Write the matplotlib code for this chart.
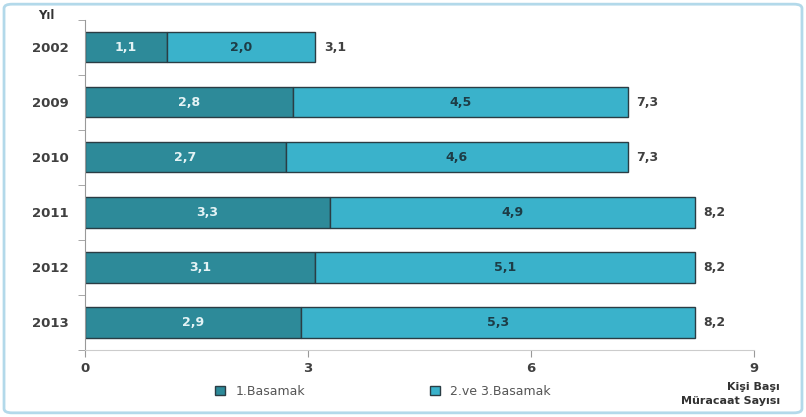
import numpy as np
import matplotlib.pyplot as plt
from matplotlib.patches import FancyBboxPatch

years = ['2002', '2009', '2010', '2011', '2012', '2013']
basamak1 = [1.1, 2.8, 2.7, 3.3, 3.1, 2.9]
basamak23 = [2.0, 4.5, 4.6, 4.9, 5.1, 5.3]
totals = [3.1, 7.3, 7.3, 8.2, 8.2, 8.2]

dark = '#2d8a99'
light = '#3ab2cb'

fig = plt.figure(figsize=(8.06, 4.17), dpi=100)
ax = fig.add_axes([0.1055, 0.1607, 0.83, 0.792])

y = np.arange(len(years))
h = 0.55
ax.barh(y, basamak1, h, color=dark, edgecolor='#2a3d44', linewidth=1, label='1.Basamak')
ax.barh(y, basamak23, h, left=basamak1, color=light, edgecolor='#2a3d44', linewidth=1,
        label='2.ve 3.Basamak')

fmt = lambda v: f'{v:.1f}'.replace('.', ',')
for i in range(len(years)):
    ax.text(basamak1[i] / 2, y[i], fmt(basamak1[i]), ha='center', va='center',
            fontsize=9, color='#e4f3f5', fontweight='bold')
    ax.text(basamak1[i] + basamak23[i] / 2, y[i], fmt(basamak23[i]), ha='center',
            va='center', fontsize=9, color='#1d3c46', fontweight='bold')
    ax.text(totals[i] + 0.12, y[i], fmt(totals[i]), ha='left', va='center',
            fontsize=9, color='#404040', fontweight='bold')

ax.set_xlim(0, 9)
ax.set_ylim(len(years) - 0.5, -0.5)
ax.set_xticks([0, 3, 6, 9])
ax.set_yticks(y)
ax.set_yticklabels(years)
ax.set_yticks(np.arange(-0.5, len(years), 1), minor=True)
ax.tick_params(axis='y', which='major', length=0, pad=12, labelsize=9.5, labelcolor='#404040')
ax.tick_params(axis='y', which='minor', length=5, color='#999999', direction='out')
ax.tick_params(axis='x', length=5, color='#999999', labelsize=9.5, labelcolor='#404040')
for lab in ax.get_yticklabels() + ax.get_xticklabels():
    lab.set_fontweight('bold')
for s in ['top', 'right']:
    ax.spines[s].set_visible(False)
ax.spines['left'].set_color('#999999')
ax.spines['bottom'].set_color('#cccccc')

fig.text(0.058, 0.962, 'Yıl', fontsize=8.5, fontweight='bold', color='#333333',
         ha='center', va='center')
fig.text(0.968, 0.055, 'Kişi Başı\nMüracaat Sayısı', fontsize=8, fontweight='bold',
         color='#333333', ha='right', va='center', linespacing=1.5)

fig.legend(loc='center', bbox_to_anchor=(0.475, 0.062), ncol=2, frameon=False,
           fontsize=9, handlelength=0.8, handleheight=0.8, columnspacing=10,
           labelcolor='#555555')

fig.patches.append(FancyBboxPatch((0.005, 0.01), 0.99, 0.98,
                                  boxstyle='round,pad=0,rounding_size=0.01',
                                  transform=fig.transFigure, fill=False,
                                  edgecolor='#b3d9ea', linewidth=2))

fig.savefig('out.png', dpi=100)
